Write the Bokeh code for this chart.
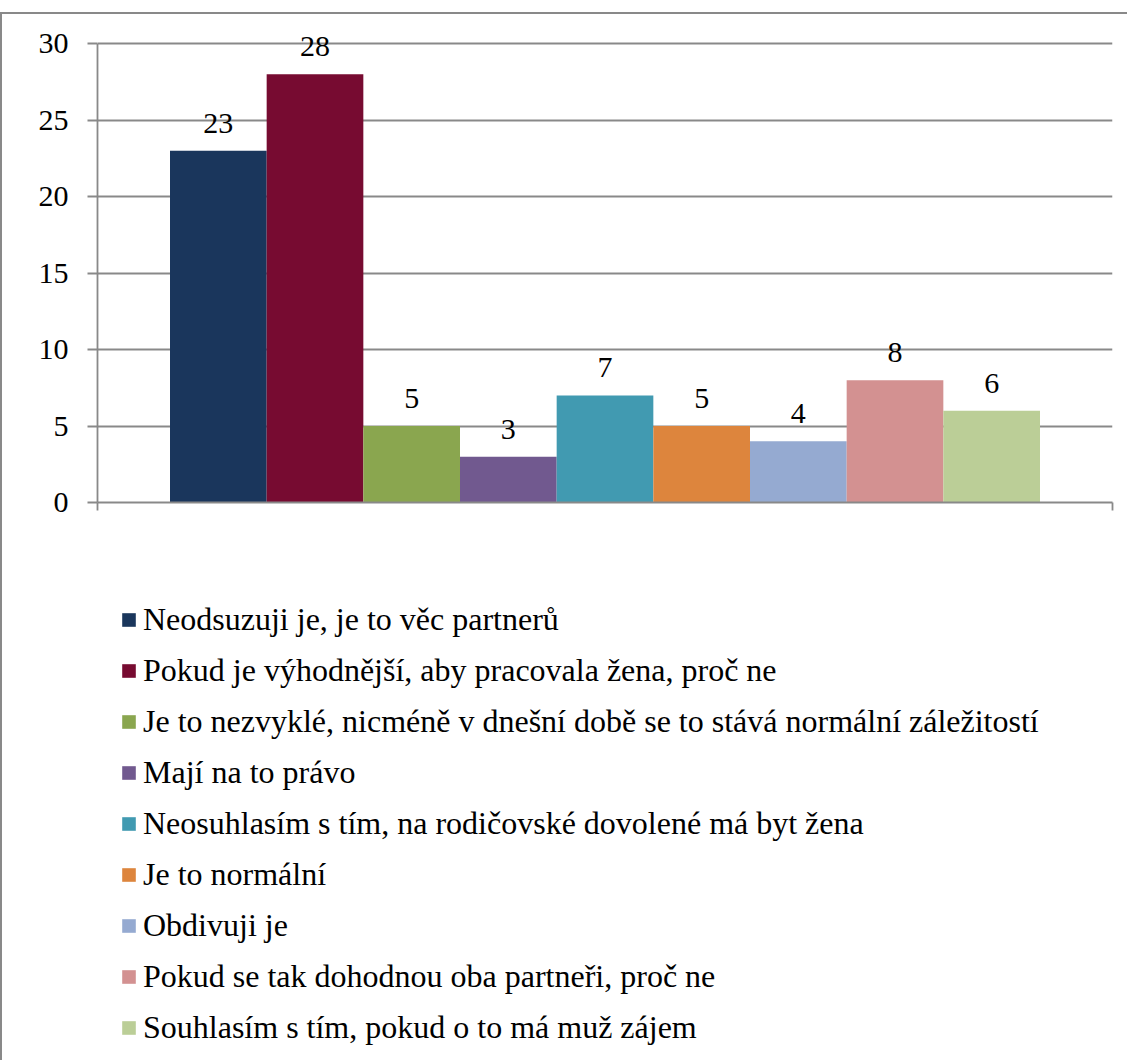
from bokeh.plotting import figure
from bokeh.layouts import column
from bokeh.models import (ColumnDataSource, Range1d, FixedTicker, LabelSet,
                          Legend, LegendItem)
from bokeh.embed import file_html
from bokeh.resources import INLINE

categories = [
    "Neodsuzuji je, je to věc partnerů",
    "Pokud je výhodnější, aby pracovala žena, proč ne",
    "Je to nezvyklé, nicméně v dnešní době se to stává normální záležitostí",
    "Mají na to právo",
    "Neosuhlasím s tím, na rodičovské dovolené má byt žena",
    "Je to normální",
    "Obdivuji je",
    "Pokud se tak dohodnou oba partneři, proč ne",
    "Souhlasím s tím, pokud o to má muž zájem",
]
values = [23, 28, 5, 3, 7, 5, 4, 8, 6]
colors = ["#1A365C", "#770B31", "#8AA64F", "#71598F", "#419AB1",
          "#DD853D", "#95AAD1", "#D39191", "#BBCE97"]
y_ticks = [0, 5, 10, 15, 20, 25, 30]

FONT = "'Liberation Serif', 'Times New Roman', serif"
GRAY = "#898989"
FS = "30px"
LFS = "32px"

n = len(values)
src = ColumnDataSource(dict(
    x=list(range(n)),
    top=values,
    color=colors,
    label=categories,
    txt=[str(v) for v in values],
))

gap = 0.75
W = 1125
H1 = 518
H2 = 528
p = figure(width=W, height=H1, output_backend="svg", toolbar_location=None,
           x_range=Range1d(-0.5 - gap, n - 0.5 + gap), y_range=Range1d(0, 31),
           min_border_left=95, min_border_right=15, min_border_top=14,
           min_border_bottom=30)
p.outline_line_color = None
p.background_fill_color = "white"
p.border_fill_color = "white"

p.xgrid.visible = False
p.ygrid.ticker = FixedTicker(ticks=y_ticks)
p.ygrid.grid_line_color = GRAY
p.ygrid.grid_line_width = 1.8

# y axis
p.yaxis.ticker = FixedTicker(ticks=y_ticks)
p.yaxis.bounds = (0, 30)
p.yaxis.axis_line_color = GRAY
p.yaxis.axis_line_width = 1.8
p.yaxis.major_tick_line_color = GRAY
p.yaxis.major_tick_line_width = 1.8
p.yaxis.major_tick_out = 10
p.yaxis.major_tick_in = 0
p.yaxis.minor_tick_line_color = None
p.yaxis.major_label_standoff = 19
p.yaxis.major_label_text_font = FONT
p.yaxis.major_label_text_font_size = FS
p.yaxis.major_label_text_color = "black"

# x axis (no labels, tick marks at both ends)
p.xaxis.ticker = FixedTicker(ticks=[-0.5 - gap, n - 0.5 + gap])
p.xaxis.axis_line_color = GRAY
p.xaxis.axis_line_width = 1.8
p.xaxis.major_tick_line_color = GRAY
p.xaxis.major_tick_line_width = 1.8
p.xaxis.major_tick_out = 8
p.xaxis.major_tick_in = 0
p.xaxis.minor_tick_line_color = None
p.xaxis.major_label_text_color = None
p.xaxis.major_label_text_font_size = "1px"

r = p.vbar(x="x", top="top", width=1.0, fill_color="color", line_color=None,
           source=src)

labels = LabelSet(x="x", y="top", text="txt", source=src, y_offset=18,
                  text_align="center", text_baseline="alphabetic",
                  text_font=FONT, text_font_size=FS, text_color="black")
p.add_layout(labels)

# legend figure (below the chart)
q = figure(width=W, height=H2, output_backend="svg", toolbar_location=None,
           x_range=Range1d(0, 1), y_range=Range1d(0, 1),
           min_border_left=0, min_border_right=0, min_border_top=0,
           min_border_bottom=0)
q.axis.visible = False
q.grid.visible = False
q.outline_line_color = None
q.border_fill_color = "white"

rq = q.vbar(x="x", top="top", width=1.0, fill_color="color", line_color=None,
            source=src, visible=False)
items = [LegendItem(label=c, renderers=[rq], index=i)
         for i, c in enumerate(categories)]

legend = Legend(items=items, location=(23, 14), orientation="vertical",
                padding=0, margin=0, spacing=14, glyph_width=17, glyph_height=17,
                label_standoff=6, label_text_font=FONT, label_text_font_size=LFS,
                label_text_color="black", border_line_color=None,
                background_fill_alpha=0, label_height=17,
                inactive_fill_alpha=0, click_policy="none")
q.add_layout(legend)

lay = column(p, q, spacing=0)
lay.styles = {"border-left": f"2px solid {GRAY}", "border-top": f"2px solid {GRAY}",
              "margin-top": "12px"}

open("out.html", "w").write(file_html(lay, INLINE))
